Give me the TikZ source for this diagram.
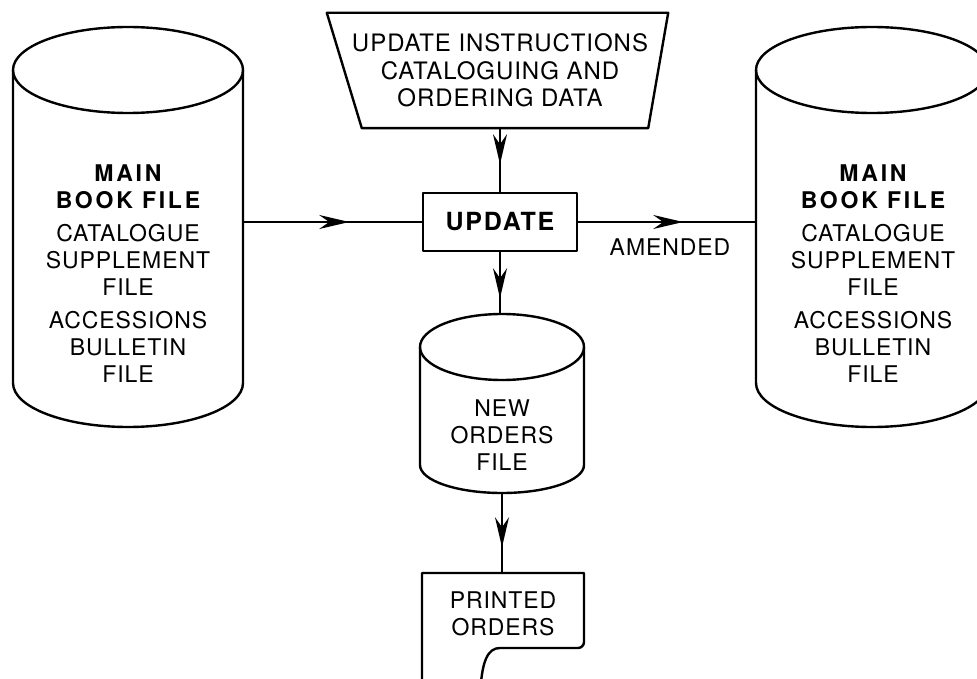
\documentclass[tikz,border=0pt]{standalone}
\usepackage{fontspec}
\setmainfont{TeX Gyre Heros}[LetterSpace=4]
\usetikzlibrary{arrows.meta,decorations.markings,calc}
\newcommand\wb[1]{{\bfseries\addfontfeatures{LetterSpace=12}#1}}
\newcommand\wbu[1]{{\fontsize{25}{27}\selectfont\bfseries\addfontfeatures{LetterSpace=7}#1}}
\begin{document}
\begin{tikzpicture}[x=1pt,y=-1pt, line join=round,
  shp/.style={line width=2.4pt},
  con/.style={line width=1.6pt},
  txt/.style={font=\fontsize{23}{27}\selectfont, align=center, inner sep=0pt},
  bigtxt/.style={font=\fontsize{24}{27.5}\selectfont, align=center, inner sep=0pt},
  midarrow/.style={postaction={decorate},decoration={markings, mark=at position #1 with {\arrow{Stealth[length=30pt,width=14pt,inset=10pt]}}}}]
\useasboundingbox (0,0) rectangle (977,679);
\clip (0,0) rectangle (977,679);

% left main book file
\node[minimum width=230pt, minimum height=399pt, inner sep=0pt] (mainL) at (128,227.5) {};
\draw[shp] (128,70) ellipse[x radius=115, y radius=43];
\draw[shp] (13,70) -- (13,383) arc[start angle=180, end angle=0, x radius=115, y radius=44] -- (243,70);
\node[txt] (mainLtext) at (128,273.5) {\wb{MAIN}\\ \wb{BOOK FILE}\\[6pt] CATALOGUE\\ SUPPLEMENT\\ FILE\\[6pt] ACCESSIONS\\ BULLETIN\\ FILE};

% right main book file
\node[minimum width=232pt, minimum height=399pt, inner sep=0pt] (mainR) at (872,227.5) {};
\draw[shp] (872,70) ellipse[x radius=116, y radius=43];
\draw[shp] (756,70) -- (756,383) arc[start angle=180, end angle=0, x radius=116, y radius=44] -- (988,70);
\node[txt] (mainRtext) at (873,273.5) {\wb{MAIN}\\ \wb{BOOK FILE}\\[6pt] CATALOGUE\\ SUPPLEMENT\\ FILE\\[6pt] ACCESSIONS\\ BULLETIN\\ FILE};

% input trapezium
\node[bigtxt, minimum width=350pt, minimum height=115pt] (instr) at (500,70.5) {UPDATE INSTRUCTIONS\\ CATALOGUING AND\\ ORDERING DATA};
\draw[shp] ($(instr.north west)+(2,0)$) -- ($(instr.north east)+(-7,0)$) -- ($(instr.south east)+(-27,0)$) -- ($(instr.south west)+(37,0)$) -- cycle;

% update process
\node[draw, shp, txt, minimum width=154pt, minimum height=58pt] (upd) at (500,222) {\wbu{UPDATE}};

% new orders file
\node[minimum width=164pt, minimum height=179pt, inner sep=0pt] (neworders) at (502,403.5) {};
\draw[shp] (502,347) ellipse[x radius=82, y radius=33];
\draw[shp] (420,347) -- (420,465) arc[start angle=180, end angle=0, x radius=82, y radius=28] -- (584,347);
\node[txt] (newtext) at (502,435) {NEW\\ ORDERS\\ FILE};

% printed orders document
\node[minimum width=162pt, minimum height=106pt, inner sep=0pt] (doc) at (503,626) {};
\draw[shp] (422,700) -- (422,573) -- (584,573) [rounded corners=6pt] -- (584,648) [sharp corners] -- (500,648) .. controls (488,648) and (481,660) .. (480,700);
\node[txt] (doctext) at (503,614) {PRINTED\\ ORDERS};

% connectors
\draw[con, midarrow=36pt] (instr.south) -- (upd.north);
\draw[con, midarrow=106pt] (upd.west -| mainL.east) -- (upd.west);
\draw[con, midarrow=105pt] (upd.east) -- (upd.east -| mainR.west);
\node[txt] (amend) at (670,247) {AMENDED};
\draw[con, midarrow=46pt] (upd.south) -- (upd.south |- neworders.north);
\draw[con, midarrow=54pt] (neworders.south) -- (neworders.south |- doc.north);
\end{tikzpicture}
\end{document}
